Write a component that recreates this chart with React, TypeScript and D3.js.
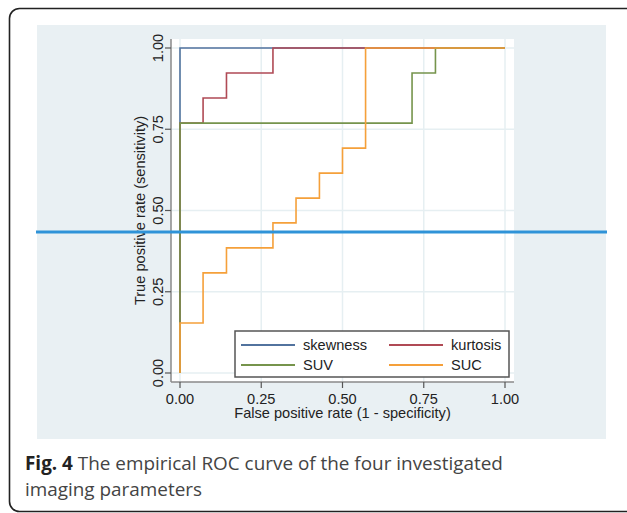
import React from "react";
import * as d3 from "d3";

const xTicks = [0, 0.25, 0.5, 0.75, 1];
const yTicks = [0, 0.25, 0.5, 0.75, 1];
const seriesNames = ["skewness", "kurtosis", "SUV", "SUC"];
const seriesColors = ["#52739e", "#b04a55", "#76944c", "#f5a03a"];

// ROC step points [fpr, tpr]
const skewness: [number, number][] = [[0, 0], [0, 1], [1, 1]];
const kurtosis: [number, number][] = [
  [0, 0], [0, 0.769], [0.071, 0.769], [0.071, 0.846], [0.143, 0.846],
  [0.143, 0.923], [0.286, 0.923], [0.286, 1], [1, 1],
];
const suv: [number, number][] = [
  [0, 0], [0, 0.769], [0.714, 0.769], [0.714, 0.923], [0.786, 0.923], [0.786, 1], [1, 1],
];
const suc: [number, number][] = [
  [0, 0], [0, 0.154], [0.071, 0.154], [0.071, 0.308], [0.143, 0.308], [0.143, 0.385],
  [0.286, 0.385], [0.286, 0.462], [0.357, 0.462], [0.357, 0.538], [0.429, 0.538],
  [0.429, 0.615], [0.5, 0.615], [0.5, 0.692], [0.571, 0.692], [0.571, 1], [1, 1],
];
const seriesData = [skewness, kurtosis, suv, suc];

const captionBold = "Fig. 4";
const captionLine1 = " The empirical ROC curve of the four investigated";
const captionLine2 = "imaging parameters";

export default function App() {
  const W = 627, H = 513;
  const x = d3.scaleLinear().domain([0, 1]).range([180, 505]);
  const y = d3.scaleLinear().domain([0, 1]).range([373, 48]);
  const line = d3.line<[number, number]>().x(d => x(d[0])).y(d => y(d[1]));
  const axisFont = "'Liberation Sans', Arial, sans-serif";
  const fs = 14.6;
  const plotL = 171, plotR = 514, plotT = 39, plotB = 382;

  return (
    <svg width={W} height={H} style={{ position: "absolute", left: 0, top: 0, background: "#fff" }}>
      <rect x={9.5} y={8.5} width={640} height={503} rx={10} fill="#fff" stroke="#222" strokeWidth={1.6} />
      <rect x={37} y={25} width={569} height={414} fill="#e9f0f3" />
      <rect x={plotL} y={plotT} width={plotR - plotL} height={plotB - plotT} fill="#fff" />
      {xTicks.map(t => (
        <line key={"gx" + t} x1={x(t)} x2={x(t)} y1={plotT} y2={plotB} stroke="#e6eff2" strokeWidth={1.5} />
      ))}
      {yTicks.map(t => (
        <line key={"gy" + t} x1={plotL} x2={plotR} y1={y(t)} y2={y(t)} stroke="#e6eff2" strokeWidth={1.5} />
      ))}
      {seriesData.map((d, i) => (
        <path key={seriesNames[i]} d={line(d) || ""} fill="none" stroke={seriesColors[i]} strokeWidth={1.6} />
      ))}
      <line x1={plotL} x2={plotL} y1={plotT} y2={plotB} stroke="#8a8a8a" strokeWidth={1.5} />
      <line x1={plotL} x2={plotR} y1={plotB} y2={plotB} stroke="#8a8a8a" strokeWidth={1.5} />
      {yTicks.map(t => (
        <g key={"yt" + t}>
          <line x1={plotL - 6} x2={plotL} y1={y(t)} y2={y(t)} stroke="#555" strokeWidth={1.2} />
          <text transform={`translate(163,${y(t)}) rotate(-90)`} textAnchor="middle" fontFamily={axisFont} fontSize={fs} fill="#222">
            {d3.format(".2f")(t)}
          </text>
        </g>
      ))}
      {xTicks.map(t => (
        <g key={"xt" + t}>
          <line x1={x(t)} x2={x(t)} y1={plotB} y2={plotB + 6} stroke="#555" strokeWidth={1.2} />
          <text x={x(t)} y={404} textAnchor="middle" fontFamily={axisFont} fontSize={fs} fill="#222">
            {d3.format(".2f")(t)}
          </text>
        </g>
      ))}
      <text x={x(0.5)} y={418} textAnchor="middle" fontFamily={axisFont} fontSize={fs} fill="#222">
        False positive rate (1 - specificity)
      </text>
      <text transform={`translate(145,${y(0.5)}) rotate(-90)`} textAnchor="middle" fontFamily={axisFont} fontSize={fs} fill="#222">
        True positive rate (sensitivity)
      </text>
      <rect x={235} y={331} width={274} height={46} fill="#fff" stroke="#555" strokeWidth={1.5} />
      {seriesNames.map((n, i) => {
        const col = i % 2, row = Math.floor(i / 2);
        const lx = col === 0 ? 241 : 389;
        const ly = row === 0 ? 345 : 365;
        return (
          <g key={"lg" + n}>
            <line x1={lx} x2={lx + 54} y1={ly} y2={ly} stroke={seriesColors[i]} strokeWidth={2} />
            <text x={lx + 62} y={ly + 5} fontFamily={axisFont} fontSize={fs} fill="#222">{n}</text>
          </g>
        );
      })}
      <line x1={36} x2={607} y1={232} y2={232} stroke="#2f93d8" strokeWidth={3} />
      <text x={25} y={470} fontFamily="'Open Sans', sans-serif" fontSize={18.9} fill="#444">
        <tspan fontWeight="bold" fill="#222">{captionBold}</tspan>
        <tspan>{captionLine1}</tspan>
      </text>
      <text x={25} y={496} fontFamily="'Open Sans', sans-serif" fontSize={18.9} fill="#444">
        {captionLine2}
      </text>
    </svg>
  );
}
